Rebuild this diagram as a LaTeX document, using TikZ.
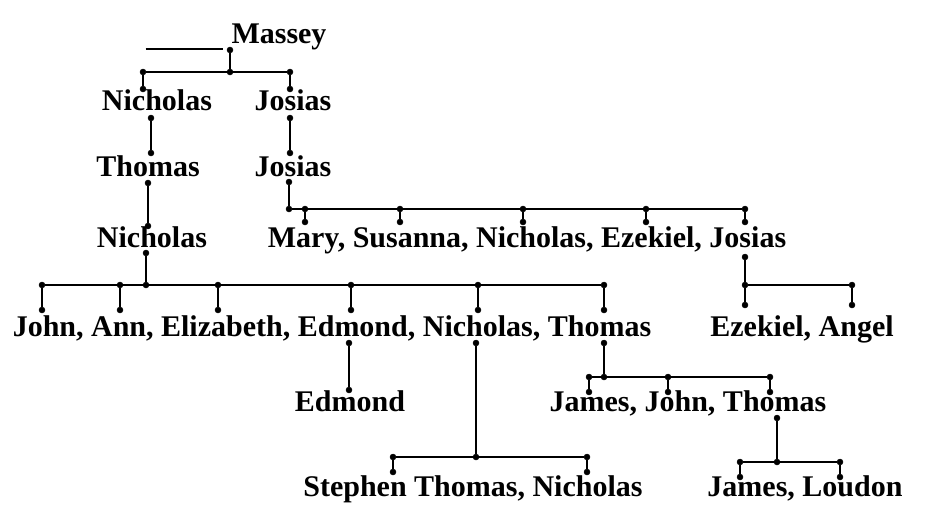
\documentclass[tikz,border=0pt]{standalone}
\usepackage{fontspec}
\setmainfont{Liberation Serif}
\usepackage{tikz}

\begin{document}
\begin{tikzpicture}[x=1pt,y=-1pt,
    vertex/.style={circle,draw,fill=black,minimum size=6pt,inner sep=0pt},
    person/.style={anchor=base,inner sep=0pt,font=\fontsize{30}{30}\selectfont\bfseries},
    link/.style={line width=2.5pt}]
\useasboundingbox (0,0) rectangle (932,523);
% names
\node[person] (massey) at (236,43) {\rule[-7pt]{77pt}{2pt}\hspace{9pt}Massey};
\node[person] (nich1) at (157,110) {Nicholas};
\node[person] (jos1) at (293,110) {Josias};
\node[person] (thom1) at (148,176) {Thomas};
\node[person] (jos2) at (293,176) {Josias};
\node[person] (nich2) at (152,247) {Nicholas};
\node[person] (mary) at (527,247) {Mary, Susanna, Nicholas, Ezekiel, Josias};
\node[person] (john) at (332,336) {John, Ann, Elizabeth, Edmond, Nicholas, Thomas};
\node[person] (ezek) at (802,336) {Ezekiel, Angel};
\node[person] (edm) at (350,411) {Edmond};
\node[person] (james) at (688,411) {James, John, Thomas};
\node[person] (steph) at (473,496) {Stephen Thomas, Nicholas};
\node[person] (loud) at (805,496) {James, Loudon};
% Massey
\node[vertex] (a0) at (230,50) {};
\node[vertex] (a1) at (230,72) {};
\node[vertex] (a2) at (143,72) {};
\node[vertex] (a3) at (290,72) {};
\node[vertex] (a4) at (143,89) {};
\node[vertex] (a5) at (290,89) {};
\draw[link] (a0) -- (a1);
\draw[link] (a2) -- (a3);
\draw[link] (a2) -- (a4);
\draw[link] (a3) -- (a5);
% Nicholas, Josias
\node[vertex] (b1) at (151,118) {};
\node[vertex] (b2) at (151,153) {};
\node[vertex] (c1) at (290,118) {};
\node[vertex] (c2) at (290,153) {};
\node[vertex] (d1) at (148,183) {};
\node[vertex] (d2) at (148,226) {};
\draw[link] (b1) -- (b2);
\draw[link] (c1) -- (c2);
\draw[link] (d1) -- (d2);
% Josias
\node[vertex] (e0) at (289,182) {};
\node[vertex] (e1) at (289,209) {};
\node[vertex] (e2) at (305,209) {};
\node[vertex] (e3) at (400,209) {};
\node[vertex] (e4) at (523,209) {};
\node[vertex] (e5) at (646,209) {};
\node[vertex] (e6) at (745,209) {};
\node[vertex] (e7) at (305,222) {};
\node[vertex] (e8) at (400,222) {};
\node[vertex] (e9) at (523,222) {};
\node[vertex] (e10) at (646,222) {};
\node[vertex] (e11) at (745,222) {};
\draw[link] (e0) -- (e1);
\draw[link] (e1) -- (e6);
\draw[link] (e2) -- (e7);
\draw[link] (e3) -- (e8);
\draw[link] (e4) -- (e9);
\draw[link] (e5) -- (e10);
\draw[link] (e6) -- (e11);
% Josias
\node[vertex] (f0) at (745,257) {};
\node[vertex] (f1) at (745,285) {};
\node[vertex] (f2) at (852,285) {};
\node[vertex] (f3) at (745,305) {};
\node[vertex] (f4) at (852,305) {};
\draw[link] (f0) -- (f1);
\draw[link] (f1) -- (f2);
\draw[link] (f1) -- (f3);
\draw[link] (f2) -- (f4);
% Nicholas
\node[vertex] (g0) at (146,253) {};
\node[vertex] (g1) at (146,285) {};
\node[vertex] (g2) at (42,285) {};
\node[vertex] (g3) at (120,285) {};
\node[vertex] (g4) at (218,285) {};
\node[vertex] (g5) at (351,285) {};
\node[vertex] (g6) at (478,285) {};
\node[vertex] (g7) at (604,285) {};
\node[vertex] (g8) at (42,310) {};
\node[vertex] (g9) at (120,310) {};
\node[vertex] (g10) at (218,310) {};
\node[vertex] (g11) at (351,310) {};
\node[vertex] (g12) at (478,310) {};
\node[vertex] (g13) at (604,310) {};
\draw[link] (g0) -- (g1);
\draw[link] (g2) -- (g7);
\draw[link] (g2) -- (g8);
\draw[link] (g3) -- (g9);
\draw[link] (g4) -- (g10);
\draw[link] (g5) -- (g11);
\draw[link] (g6) -- (g12);
\draw[link] (g7) -- (g13);
% Edmond
\node[vertex] (h1) at (349,343) {};
\node[vertex] (h2) at (349,390) {};
\draw[link] (h1) -- (h2);
% Nicholas
\node[vertex] (i0) at (476,343) {};
\node[vertex] (i1) at (476,457) {};
\node[vertex] (i2) at (393,457) {};
\node[vertex] (i3) at (587,457) {};
\node[vertex] (i4) at (393,472) {};
\node[vertex] (i5) at (587,472) {};
\draw[link] (i0) -- (i1);
\draw[link] (i2) -- (i3);
\draw[link] (i2) -- (i4);
\draw[link] (i3) -- (i5);
% Thomas
\node[vertex] (j0) at (604,343) {};
\node[vertex] (j1) at (604,377) {};
\node[vertex] (j2) at (589,377) {};
\node[vertex] (j3) at (668,377) {};
\node[vertex] (j4) at (770,377) {};
\node[vertex] (j5) at (589,392) {};
\node[vertex] (j6) at (668,392) {};
\node[vertex] (j7) at (770,392) {};
\draw[link] (j0) -- (j1);
\draw[link] (j2) -- (j4);
\draw[link] (j2) -- (j5);
\draw[link] (j3) -- (j6);
\draw[link] (j4) -- (j7);
% Thomas
\node[vertex] (k0) at (777,418) {};
\node[vertex] (k1) at (777,462) {};
\node[vertex] (k2) at (740,462) {};
\node[vertex] (k3) at (840,462) {};
\node[vertex] (k4) at (740,477) {};
\node[vertex] (k5) at (840,477) {};
\draw[link] (k0) -- (k1);
\draw[link] (k2) -- (k3);
\draw[link] (k2) -- (k4);
\draw[link] (k3) -- (k5);
\end{tikzpicture}
\end{document}
